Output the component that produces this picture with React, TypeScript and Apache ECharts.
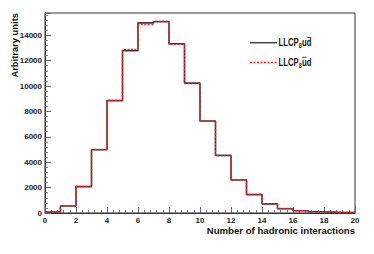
import React, { useEffect, useRef } from "react";
import * as echarts from "echarts";

const binEdges = [0,1,2,3,4,5,6,7,8,9,10,11,12,13,14,15,16,17,18,19,20];
const blackValues = [80, 550, 2080, 4980, 8850, 12780, 14970, 15060, 13330, 10230, 7250, 4540, 2600, 1450, 720, 340, 180, 100, 50, 30];
const redValues = [70, 560, 2100, 5000, 8870, 12870, 14850, 15100, 13280, 10200, 7230, 4520, 2620, 1470, 730, 350, 190, 90, 60, 30];
const xTicks = [0, 2, 4, 6, 8, 10, 12, 14, 16, 18, 20];
const yTicks = [0, 2000, 4000, 6000, 8000, 10000, 12000, 14000];

function stepData(vals: number[]) {
  const d: number[][] = vals.map((v, i) => [binEdges[i], v]);
  d.push([binEdges[vals.length], vals[vals.length - 1]]);
  return d;
}

const FONT = "Liberation Sans";

function legendEntry(y: number, overIdx: number, color: string, dashed: boolean) {
  const children: any[] = [
    { type: "text", x: 0, y: 0, style: { text: "LLCP", font: `bold 10px '${FONT}'`, fill: "#111", textVerticalAlign: "middle" } },
    { type: "text", x: 26.3, y: 2.8, style: { text: "8", font: `bold 7px '${FONT}'`, fill: "#111", textVerticalAlign: "middle" } },
    { type: "text", x: 30.5, y: 0, style: { text: "ud", font: `bold 10px '${FONT}'`, fill: "#111", textVerticalAlign: "middle" } },
    {
      type: "line",
      shape: { x1: 30.8 + overIdx * 6.1, y1: -5.2, x2: 36.4 + overIdx * 6.1, y2: -5.2 },
      style: { stroke: "#111", lineWidth: 0.9 },
    },
  ];
  return [
    {
      type: "line",
      shape: { x1: 250, y1: y, x2: 277, y2: y },
      style: { stroke: color, lineWidth: 1.5, lineDash: dashed ? [2, 1.5] : null },
    },
    { type: "group", x: 278.5, y: y, scaleX: 0.77, children },
  ];
}

export default function App() {
  const ref = useRef<HTMLDivElement>(null);
  useEffect(() => {
    if (!ref.current) return;
    const chart = echarts.init(ref.current, null, { renderer: "svg" });
    const labelStyle = { fontFamily: FONT, fontWeight: "bold" as const, fontSize: 8, color: "#222" };
    chart.setOption({
      animation: false,
      backgroundColor: "#fff",
      grid: { left: 45, right: 19, top: 13, bottom: 41, show: true, borderColor: "#333", borderWidth: 1, containLabel: false },
      xAxis: {
        type: "value",
        min: 0,
        max: 20,
        interval: 2,
        axisLine: { show: true, lineStyle: { color: "#333", width: 1 } },
        axisTick: { show: true, inside: true, length: 6, lineStyle: { color: "#666" } },
        minorTick: { show: true, splitNumber: 5, length: 3, lineStyle: { color: "#777" } },
        splitLine: { show: false },
        axisLabel: {
          ...labelStyle,
          margin: 3,
          formatter: (v: number) => (xTicks.includes(v) ? String(v) : ""),
        },
      },
      yAxis: {
        type: "value",
        min: 0,
        max: 15750,
        interval: 2000,
        axisLine: { show: true, lineStyle: { color: "#333", width: 1 } },
        axisTick: { show: true, inside: true, length: 6, lineStyle: { color: "#666" } },
        minorTick: { show: true, splitNumber: 5, length: 3, lineStyle: { color: "#777" } },
        splitLine: { show: false },
        axisLabel: {
          ...labelStyle,
          margin: 3,
          formatter: (v: number) => (yTicks.includes(v) ? String(v) : ""),
        },
      },
      series: [
        {
          type: "line",
          name: "black",
          step: "end",
          symbol: "none",
          data: stepData(blackValues),
          lineStyle: { color: "#3a3a3a", width: 1.6 },
          z: 2,
        },
        {
          type: "line",
          name: "red",
          step: "end",
          symbol: "none",
          data: stepData(redValues),
          lineStyle: { color: "#ff1a1a", width: 1.4, type: [2, 1.5] },
          z: 3,
        },
      ],
      graphic: [
        {
          type: "text",
          x: 14,
          y: 13,
          rotation: Math.PI / 2,
          style: {
            text: "Arbitrary units",
            font: `bold 9.4px '${FONT}'`,
            fill: "#111",
            textAlign: "right",
            textVerticalAlign: "middle",
          },
        },
        {
          type: "text",
          x: 355,
          y: 230,
          style: {
            text: "Number of hadronic interactions",
            font: `bold 9.6px '${FONT}'`,
            fill: "#111",
            textAlign: "right",
            textVerticalAlign: "middle",
          },
        },
        ...legendEntry(42.7, 1, "#444", false),
        ...legendEntry(62.5, 0, "#ff1a1a", true),
      ],
    });
    return () => chart.dispose();
  }, []);
  return <div ref={ref} style={{ width: 374, height: 254, position: "absolute", left: 0, top: 0 }} />;
}
